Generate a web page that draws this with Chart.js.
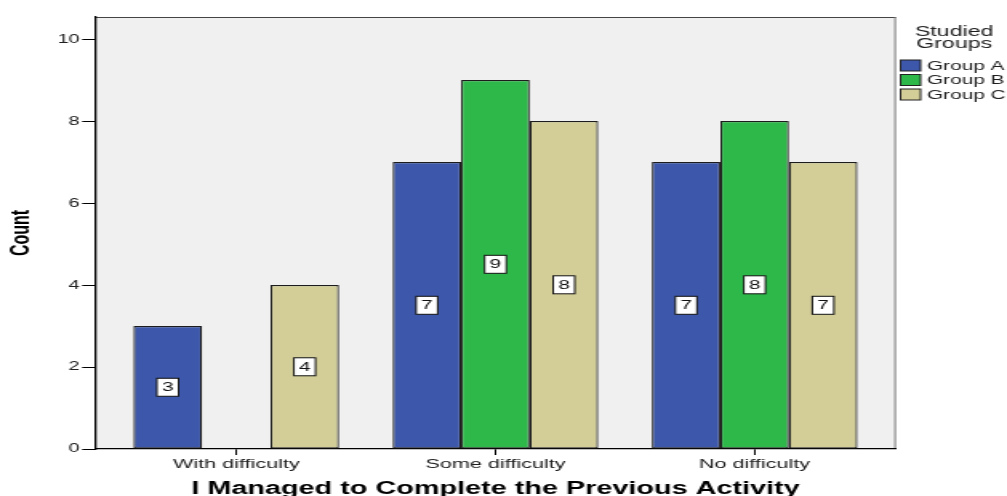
<!DOCTYPE html>
<html>
<head>
<meta charset="utf-8">
<title>I Managed to Complete the Previous Activity</title>
<script src="https://cdn.jsdelivr.net/npm/chart.js@4/dist/chart.umd.min.js"></script>
<style>
  html, body { margin: 0; padding: 0; background: #ffffff; }
</style>
</head>
<body>
<!-- the chart is drawn on a narrower canvas and widened on screen -->
<canvas id="chart" width="629" height="496" style="display:block;width:1007px;height:496px"></canvas>
<script>
// ---- data ----
const categories = ['With difficulty', 'Some difficulty', 'No difficulty'];
const groupA = [3, 7, 7];
const groupB = [null, 9, 8];
const groupC = [4, 8, 7];
const seriesNames = ['Group A', 'Group B', 'Group C'];
const seriesColors = ['#3d58aa', '#2eb84a', '#d3ce98'];
const yTicks = [0, 2, 4, 6, 8, 10];
const legendTitle = ['Studied', 'Groups'];
const xTitle = 'I Managed to Complete the Previous Activity';
const yTitle = 'Count';

const FONT = "'Liberation Sans', Arial, sans-serif";

function toPoints(values) {
  return values.map((v, i) => ({ x: i, y: v }));
}

const datasets = [groupA, groupB, groupC].map((vals, k) => ({
  label: seriesNames[k],
  data: toPoints(vals),
  backgroundColor: seriesColors[k],
  borderColor: '#1c1c1c',
  borderWidth: 1.2,
  borderSkipped: false,
  categoryPercentage: 0.793,
  barPercentage: 1.0
}));

// plot panel: grey fill with a thin frame on top and right
const panelPlugin = {
  id: 'panel',
  beforeDraw(chart) {
    const { ctx, chartArea: a } = chart;
    ctx.save();
    ctx.fillStyle = '#f0f0f0';
    ctx.fillRect(a.left, a.top, a.right - a.left, a.bottom - a.top);
    ctx.lineWidth = 1;
    ctx.strokeStyle = '#444444';
    ctx.beginPath();
    ctx.moveTo(a.left, a.top + 0.5);
    ctx.lineTo(a.right, a.top + 0.5);
    ctx.stroke();
    ctx.strokeStyle = '#7a7a7a';
    ctx.beginPath();
    ctx.moveTo(a.right - 0.5, a.top);
    ctx.lineTo(a.right - 0.5, a.bottom);
    ctx.stroke();
    ctx.restore();
  }
};

// boxed value label at the middle of every bar
const valueLabels = {
  id: 'valueLabels',
  afterDatasetsDraw(chart) {
    const { ctx } = chart;
    ctx.save();
    ctx.font = '13px ' + FONT;
    ctx.textAlign = 'center';
    ctx.textBaseline = 'middle';
    chart.data.datasets.forEach((ds, di) => {
      const meta = chart.getDatasetMeta(di);
      meta.data.forEach((bar, i) => {
        const v = ds.data[i].y;
        if (v === null || v === undefined) return;
        const cx = bar.x;
        const cy = (bar.y + bar.base) / 2;
        const w = 13.5, h = 18;
        ctx.fillStyle = '#ffffff';
        ctx.fillRect(cx - w / 2, cy - h / 2, w, h);
        ctx.strokeStyle = '#111111';
        ctx.lineWidth = 1;
        ctx.strokeRect(cx - w / 2, cy - h / 2, w, h);
        ctx.fillStyle = '#111111';
        ctx.fillText(String(v), cx, cy + 0.5);
      });
    });
    ctx.restore();
  }
};

// legend on the right side, built from the datasets
const sideLegend = {
  id: 'sideLegend',
  afterDraw(chart) {
    const { ctx } = chart;
    ctx.save();
    ctx.fillStyle = '#1e1e1e';
    ctx.textAlign = 'center';
    ctx.textBaseline = 'middle';
    ctx.font = '14.5px ' + FONT;
    legendTitle.forEach((t, i) => ctx.fillText(t, 596, 31.5 + i * 12.5));
    ctx.font = '13px ' + FONT;
    ctx.textAlign = 'left';
    chart.data.datasets.forEach((ds, i) => {
      const cy = 65.5 + i * 14.5;
      ctx.fillStyle = ds.backgroundColor;
      ctx.fillRect(562.5, cy - 5.5, 12.5, 11);
      ctx.strokeStyle = '#222222';
      ctx.lineWidth = 1;
      ctx.strokeRect(562.5, cy - 5.5, 12.5, 11);
      ctx.fillStyle = '#1e1e1e';
      ctx.fillText(ds.label, 579, cy + 0.5);
    });
    ctx.restore();
  }
};

new Chart(document.getElementById('chart'), {
  type: 'bar',
  data: { datasets },
  options: {
    responsive: false,
    devicePixelRatio: 1,
    animation: false,
    events: [],
    layout: { padding: { top: 17, right: 69.4, bottom: 0, left: 0 } },
    plugins: {
      legend: { display: false },
      tooltip: { enabled: false }
    },
    scales: {
      x: {
        type: 'linear',
        offset: false,
        min: -0.545,
        max: 2.545,
        afterBuildTicks(scale) {
          scale.ticks = categories.map((_, i) => ({ value: i }));
        },
        afterFit(scale) { scale.height = 47; },
        ticks: {
          autoSkip: false,
          maxRotation: 0,
          padding: 1,
          color: '#202020',
          font: { family: FONT, size: 13.5 },
          callback: (v) => categories[v]
        },
        grid: { offset: false, drawOnChartArea: false, drawTicks: true, tickLength: 6, color: '#000000', lineWidth: 1 },
        border: { display: true, color: '#000000', width: 1.3 },
        title: {
          display: true,
          text: xTitle,
          color: '#000000',
          font: { family: FONT, size: 18, weight: 'bold', lineHeight: 0.8 },
          padding: { top: 0, bottom: 0 }
        }
      },
      y: {
        min: 0,
        max: 10.54,
        afterBuildTicks(scale) {
          scale.ticks = yTicks.map(v => ({ value: v }));
        },
        afterFit(scale) { scale.width = 59.3; },
        ticks: {
          padding: 1.5,
          color: '#202020',
          font: { family: FONT, size: 12.5 }
        },
        grid: { drawOnChartArea: false, drawTicks: true, tickLength: 8, color: '#000000', lineWidth: 1 },
        border: { display: true, color: '#000000', width: 1.3 },
        title: {
          display: true,
          text: yTitle,
          color: '#000000',
          font: { family: FONT, size: 16, weight: 'bold', lineHeight: 1.2 },
          padding: { top: 4.4, bottom: 0 }
        }
      }
    }
  },
  plugins: [panelPlugin, valueLabels, sideLegend]
});
</script>
</body>
</html>
